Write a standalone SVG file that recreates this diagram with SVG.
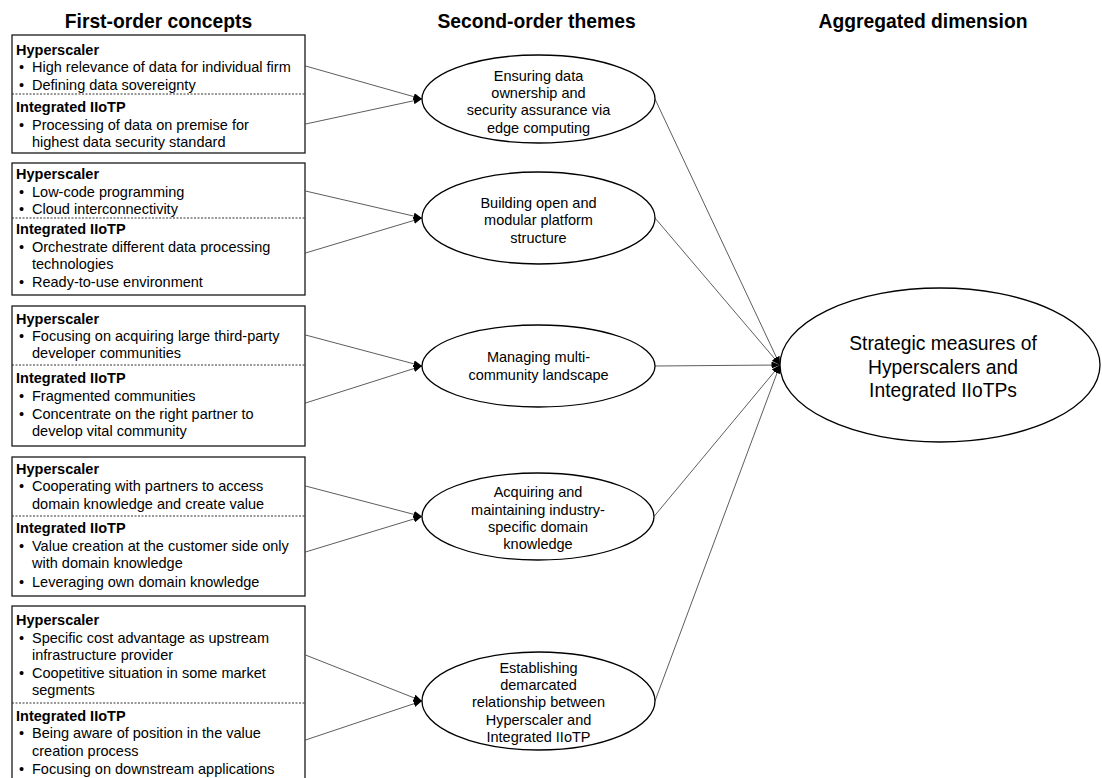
<svg xmlns="http://www.w3.org/2000/svg" width="1102" height="778" viewBox="0 0 1102 778">
<defs>
<marker id="arr" markerUnits="userSpaceOnUse" markerWidth="9" markerHeight="7" refX="8.5" refY="3.5" orient="auto">
<path d="M0,0 L8.5,3.5 L0,7 z" fill="#000"/>
</marker>
<style>
text{font-family:"Liberation Sans",Arial,sans-serif;fill:#000}
.h{font-size:19.3px;font-weight:bold;text-anchor:middle}
.t{font-size:14.5px}
.b{font-size:14.5px;font-weight:bold}
.c{font-size:14.5px;text-anchor:middle}
.big{font-size:19.3px;text-anchor:middle}
.box{fill:#fff;stroke:#1a1a1a;stroke-width:1.3}
.dash{stroke:#333;stroke-width:1;stroke-dasharray:2 1.5;fill:none}
.ell{fill:#fff;stroke:#000;stroke-width:1.3}
.con{stroke:#333;stroke-width:0.8;fill:none;marker-end:url(#arr)}
</style>
</defs>
<rect width="1102" height="778" fill="#fff"/>
<g id="headers">
<text class="h" x="158.5" y="28">First-order concepts</text>
<text class="h" x="536.5" y="28">Second-order themes</text>
<text class="h" x="923" y="28">Aggregated dimension</text>
</g>
<g id="connectors">
<line class="con" x1="305.5" y1="66" x2="422" y2="99"/>
<line class="con" x1="305.5" y1="124" x2="422" y2="99"/>
<line class="con" x1="305.5" y1="191" x2="422" y2="218"/>
<line class="con" x1="305.5" y1="253" x2="422" y2="218"/>
<line class="con" x1="305.5" y1="335" x2="422" y2="366"/>
<line class="con" x1="305.5" y1="403" x2="422" y2="366"/>
<line class="con" x1="305.5" y1="486" x2="422" y2="516.5"/>
<line class="con" x1="305.5" y1="552" x2="422" y2="516.5"/>
<line class="con" x1="305.5" y1="655" x2="422" y2="701"/>
<line class="con" x1="305.5" y1="740" x2="422" y2="701"/>
<line class="con" x1="655" y1="99" x2="780" y2="365"/>
<line class="con" x1="655" y1="218" x2="780" y2="365"/>
<line class="con" x1="655" y1="366" x2="780" y2="365"/>
<line class="con" x1="654" y1="516.5" x2="780" y2="365"/>
<line class="con" x1="655" y1="701" x2="780" y2="365"/>
</g>
<g id="box1">
<rect class="box" x="12" y="35" width="293" height="118"/>
<line class="dash" x1="12" y1="94" x2="305" y2="94"/>
<text class="b" x="16" y="54.5">Hyperscaler</text>
<text class="t" x="19" y="71.5">•</text><text class="t" x="32" y="71.5">High relevance of data for individual firm</text>
<text class="t" x="19" y="89.5">•</text><text class="t" x="32" y="89.5">Defining data sovereignty</text>
<text class="b" x="16" y="112">Integrated IIoTP</text>
<text class="t" x="19" y="129.5">•</text><text class="t" x="32" y="129.5">Processing of data on premise for</text>
<text class="t" x="32" y="147">highest data security standard</text>
</g>
<g id="box2">
<rect class="box" x="12" y="163" width="293" height="132"/>
<line class="dash" x1="12" y1="218" x2="305" y2="218"/>
<text class="b" x="16" y="178.5">Hyperscaler</text>
<text class="t" x="19" y="196.5">•</text><text class="t" x="32" y="196.5">Low-code programming</text>
<text class="t" x="19" y="214">•</text><text class="t" x="32" y="214">Cloud interconnectivity</text>
<text class="b" x="16" y="234">Integrated IIoTP</text>
<text class="t" x="19" y="252">•</text><text class="t" x="32" y="252">Orchestrate different data processing</text>
<text class="t" x="32" y="269">technologies</text>
<text class="t" x="19" y="287">•</text><text class="t" x="32" y="287">Ready-to-use environment</text>
</g>
<g id="box3">
<rect class="box" x="12" y="306" width="293" height="140"/>
<line class="dash" x1="12" y1="365" x2="305" y2="365"/>
<text class="b" x="16" y="323.5">Hyperscaler</text>
<text class="t" x="19" y="341">•</text><text class="t" x="32" y="341">Focusing on acquiring large third-party</text>
<text class="t" x="32" y="358">developer communities</text>
<text class="b" x="16" y="383">Integrated IIoTP</text>
<text class="t" x="19" y="401">•</text><text class="t" x="32" y="401">Fragmented communities</text>
<text class="t" x="19" y="418.5">•</text><text class="t" x="32" y="418.5">Concentrate on the right partner to</text>
<text class="t" x="32" y="436">develop vital community</text>
</g>
<g id="box4">
<rect class="box" x="12" y="457" width="293" height="139"/>
<line class="dash" x1="12" y1="516" x2="305" y2="516"/>
<text class="b" x="16" y="473.5">Hyperscaler</text>
<text class="t" x="19" y="491">•</text><text class="t" x="32" y="491">Cooperating with partners to access</text>
<text class="t" x="32" y="508.5">domain knowledge and create value</text>
<text class="b" x="16" y="533">Integrated IIoTP</text>
<text class="t" x="19" y="551">•</text><text class="t" x="32" y="551">Value creation at the customer side only</text>
<text class="t" x="32" y="568">with domain knowledge</text>
<text class="t" x="19" y="587">•</text><text class="t" x="32" y="587">Leveraging own domain knowledge</text>
</g>
<g id="box5">
<rect class="box" x="12" y="606" width="293" height="176"/>
<line class="dash" x1="12" y1="703" x2="305" y2="703"/>
<text class="b" x="16" y="624.5">Hyperscaler</text>
<text class="t" x="19" y="642.5">•</text><text class="t" x="32" y="642.5">Specific cost advantage as upstream</text>
<text class="t" x="32" y="660">infrastructure provider</text>
<text class="t" x="19" y="677.5">•</text><text class="t" x="32" y="677.5">Coopetitive situation in some market</text>
<text class="t" x="32" y="695">segments</text>
<text class="b" x="16" y="720.5">Integrated IIoTP</text>
<text class="t" x="19" y="738">•</text><text class="t" x="32" y="738">Being aware of position in the value</text>
<text class="t" x="32" y="756">creation process</text>
<text class="t" x="19" y="773.5">•</text><text class="t" x="32" y="773.5">Focusing on downstream applications</text>
</g>
<g id="theme1">
<ellipse class="ell" cx="538.5" cy="99" rx="116.5" ry="44"/>
<text class="c" x="538.5" y="80.7">Ensuring data</text>
<text class="c" x="538.5" y="98">ownership and</text>
<text class="c" x="538.5" y="115.3">security assurance via</text>
<text class="c" x="538.5" y="132.6">edge computing</text>
</g>
<g id="theme2">
<ellipse class="ell" cx="538.5" cy="218" rx="116.5" ry="46"/>
<text class="c" x="538.5" y="207.5">Building open and</text>
<text class="c" x="538.5" y="225">modular platform</text>
<text class="c" x="538.5" y="242.5">structure</text>
</g>
<g id="theme3">
<ellipse class="ell" cx="538.5" cy="366" rx="116.5" ry="41"/>
<text class="c" x="538.5" y="361.5">Managing multi-</text>
<text class="c" x="538.5" y="379.5">community landscape</text>
</g>
<g id="theme4">
<ellipse class="ell" cx="538" cy="516.5" rx="116" ry="43.5"/>
<text class="c" x="538" y="497">Acquiring and</text>
<text class="c" x="538" y="514.5">maintaining industry-</text>
<text class="c" x="538" y="532">specific domain</text>
<text class="c" x="538" y="549.3">knowledge</text>
</g>
<g id="theme5">
<ellipse class="ell" cx="538.5" cy="701" rx="116.5" ry="49"/>
<text class="c" x="538.5" y="672.5">Establishing</text>
<text class="c" x="538.5" y="689.5">demarcated</text>
<text class="c" x="538.5" y="707">relationship between</text>
<text class="c" x="538.5" y="724.5">Hyperscaler and</text>
<text class="c" x="538.5" y="742">Integrated IIoTP</text>
</g>
<g id="aggregate">
<ellipse class="ell" cx="940" cy="365" rx="160" ry="77"/>
<text class="big" x="943" y="350">Strategic measures of</text>
<text class="big" x="943" y="373.5">Hyperscalers and</text>
<text class="big" x="943" y="397">Integrated IIoTPs</text>
</g>
</svg>
